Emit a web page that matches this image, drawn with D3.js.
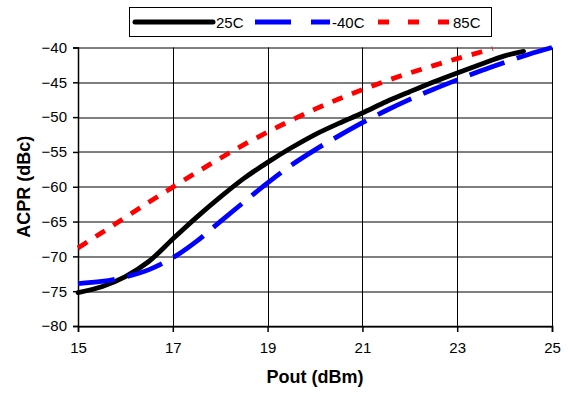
<!DOCTYPE html>
<html>
<head>
<meta charset="utf-8">
<script src="https://cdn.jsdelivr.net/npm/d3@7"></script>
<style>
  body { margin: 0; background: #fff; }
  text { font-family: Arial, "Liberation Sans", sans-serif; fill: #000; }
  .tick text { font-size: 15px; }
  .axis-title { font-size: 18px; font-weight: bold; }
  .legend-text { font-size: 15px; }
</style>
</head>
<body>
<div class="chart"></div>
<script>
var svgWidth = 568;
var svgHeight = 398;

// plot area edges in pixels
var margin = { top: 47.5, right: 16, bottom: 72, left: 78 };
var width = svgWidth - margin.left - margin.right;
var height = svgHeight - margin.top - margin.bottom;

// series
var pout25 = [15, 15.5, 16, 16.5, 17, 17.5, 18, 18.5, 19, 19.5, 20, 20.5, 21, 21.5, 22, 22.5, 23, 23.5, 24, 24.4];
var acpr25 = [-75.2, -74.35, -72.9, -70.7, -67.5, -64.4, -61.5, -58.8, -56.5, -54.4, -52.5, -50.9, -49.4, -47.8, -46.35, -44.95, -43.65, -42.4, -41.2, -40.55];

var poutM40 = [15, 15.5, 16, 16.5, 17, 17.5, 18, 18.5, 19, 19.5, 20, 20.5, 21, 21.5, 22, 22.5, 23, 23.5, 24, 24.5, 25];
var acprM40 = [-73.9, -73.6, -72.95, -71.9, -70.2, -67.85, -65.0, -62.2, -59.45, -56.9, -54.7, -52.7, -50.8, -49.05, -47.45, -46.0, -44.65, -43.35, -42.15, -41.0, -40.0];

var pout85 = [15, 15.5, 16, 16.5, 17, 17.5, 18, 18.5, 19, 19.5, 20, 20.5, 21, 21.5, 22, 22.5, 23, 23.5, 23.75];
var acpr85 = [-68.8, -66.6, -64.4, -62.2, -60.05, -57.95, -55.9, -53.95, -52.15, -50.45, -48.85, -47.4, -46.05, -44.8, -43.65, -42.6, -41.6, -40.65, -40.15];

var xTicks = [15, 17, 19, 21, 23, 25];
var yTicks = [-80, -75, -70, -65, -60, -55, -50, -45, -40];

var seriesNames = ["25C", "-40C", "85C"];

var series = [
  { name: seriesNames[0], x: pout25, y: acpr25, color: "#000000", dash: null, legendDash: null },
  { name: seriesNames[1], x: poutM40, y: acprM40, color: "#0000ff", dash: "37,13", legendDash: "36,20" },
  { name: seriesNames[2], x: pout85, y: acpr85, color: "#ff0000", dash: "11,10", legendDash: "11,19" }
];

var svg = d3
  .select(".chart")
  .append("svg")
  .attr("width", svgWidth)
  .attr("height", svgHeight);

var chartGroup = svg.append("g")
  .attr("transform", `translate(${margin.left}, ${margin.top})`);

// scales
var xLinearScale = d3.scaleLinear()
  .domain([15, 25])
  .range([0, width]);

var yLinearScale = d3.scaleLinear()
  .domain([-80, -40])
  .range([height, 0]);

// gridlines
chartGroup.append("g")
  .selectAll("line")
  .data(yTicks)
  .enter()
  .append("line")
  .attr("x1", 0)
  .attr("x2", width)
  .attr("y1", d => Math.round(yLinearScale(d)) + 0.5)
  .attr("y2", d => Math.round(yLinearScale(d)) + 0.5)
  .attr("stroke", "#000")
  .attr("stroke-width", 1);

chartGroup.append("g")
  .selectAll("line")
  .data(xTicks)
  .enter()
  .append("line")
  .attr("y1", 0)
  .attr("y2", height)
  .attr("x1", d => Math.round(xLinearScale(d)) + 0.5)
  .attr("x2", d => Math.round(xLinearScale(d)) + 0.5)
  .attr("stroke", "#000")
  .attr("stroke-width", 1);

// axes
var bottomAxis = d3.axisBottom(xLinearScale)
  .tickValues(xTicks)
  .tickSize(6)
  .tickPadding(10)
  .tickFormat(d3.format("d"));

var leftAxis = d3.axisLeft(yLinearScale)
  .tickValues(yTicks)
  .tickSize(5)
  .tickPadding(6)
  .tickFormat(d3.format("d"));

var xAxis = chartGroup.append("g")
  .attr("transform", `translate(0, ${height})`)
  .call(bottomAxis);

var yAxis = chartGroup.append("g")
  .call(leftAxis);

[xAxis, yAxis].forEach(ax => {
  ax.selectAll("path, line").attr("stroke", "#000").attr("stroke-width", 1.5);
  ax.selectAll("text").attr("font-family", null).attr("font-size", null);
});

// lines
var line = d3.line()
  .x(d => xLinearScale(d[0]))
  .y(d => yLinearScale(d[1]))
  .curve(d3.curveCatmullRom.alpha(0.5));

series.forEach(s => {
  chartGroup.append("path")
    .datum(s.x.map((v, i) => [v, s.y[i]]))
    .attr("d", line)
    .attr("fill", "none")
    .attr("stroke", s.color)
    .attr("stroke-width", 4.8)
    .attr("stroke-linecap", s.dash ? "butt" : "round")
    .attr("stroke-dasharray", s.dash);
});

// axis titles
svg.append("text")
  .attr("class", "axis-title")
  .attr("x", margin.left + width / 2)
  .attr("y", 383)
  .attr("text-anchor", "middle")
  .text("Pout (dBm)");

svg.append("text")
  .attr("class", "axis-title")
  .attr("transform", `translate(30, ${margin.top + height / 2}) rotate(-90)`)
  .attr("text-anchor", "middle")
  .text("ACPR (dBc)");

// legend
var legend = svg.append("g");

legend.append("rect")
  .attr("x", 129.5)
  .attr("y", 7.5)
  .attr("width", 362)
  .attr("height", 29)
  .attr("fill", "#fff")
  .attr("stroke", "#000")
  .attr("stroke-width", 1);

var legendX = [[135, 213, 216], [255, 330, 332], [378, 450, 453]];

series.forEach((s, i) => {
  legend.append("line")
    .attr("x1", legendX[i][0])
    .attr("x2", legendX[i][1])
    .attr("y1", 22)
    .attr("y2", 22)
    .attr("stroke", s.color)
    .attr("stroke-width", 5)
    .attr("stroke-linecap", s.legendDash ? "butt" : "round")
    .attr("stroke-dasharray", s.legendDash);

  legend.append("text")
    .attr("class", "legend-text")
    .attr("x", legendX[i][2])
    .attr("y", 27.5)
    .text(s.name);
});
</script>
</body>
</html>
